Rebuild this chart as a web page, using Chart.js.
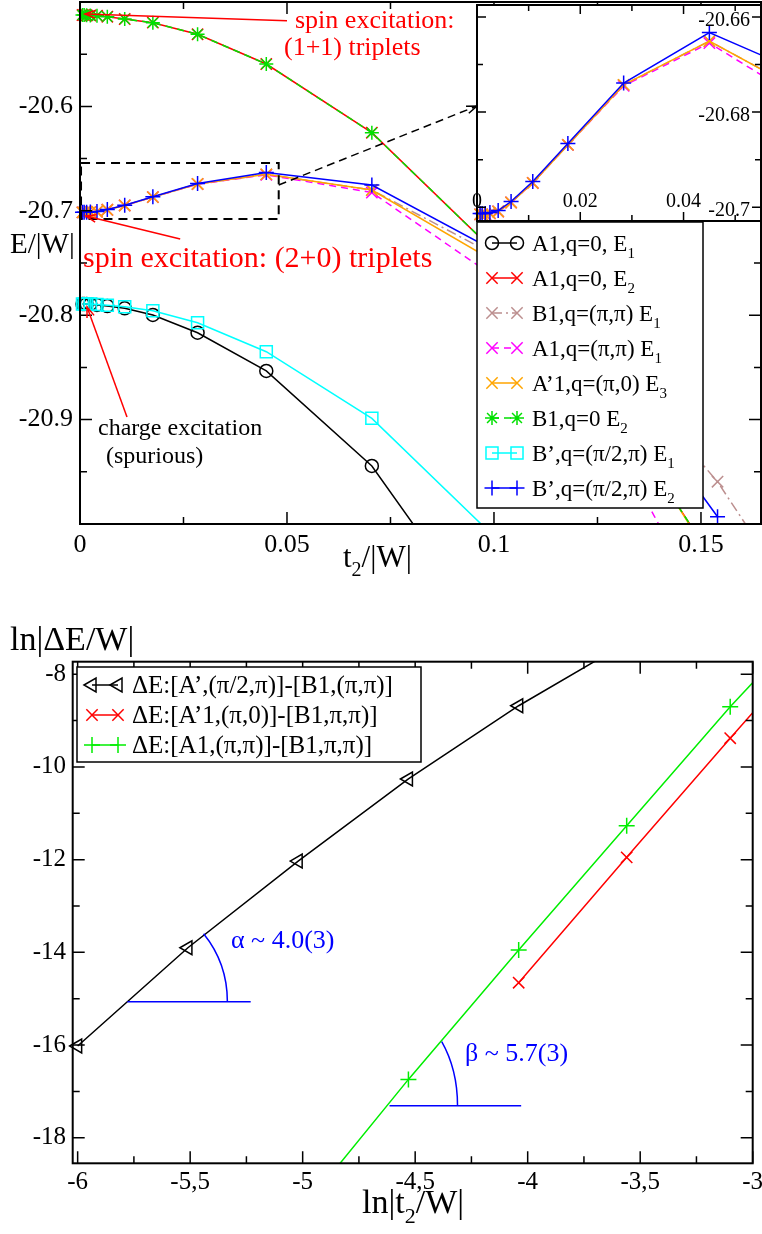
<!DOCTYPE html>
<html>
<head>
<meta charset="utf-8">
<script src="https://cdn.jsdelivr.net/npm/chart.js@4.4.1/dist/chart.umd.min.js"></script>
<style>
  body { margin: 0; background: #fff; }
  #wrap { position: relative; width: 762px; height: 1234px; }
  canvas { position: absolute; }
  #top { left: 0; top: 0; }
  #inset { left: 467px; top: 0; }
  #bottom { left: 0; top: 600px; }
</style>
</head>
<body>
<div id="wrap">
  <canvas id="top" width="762" height="600"></canvas>
  <canvas id="inset" width="295" height="226"></canvas>
  <canvas id="bottom" width="762" height="634"></canvas>
</div>
<script>
// ---- top panel: energies vs t2/|W| ----
const t2        = [0.0006, 0.001, 0.0016, 0.0025, 0.0041, 0.0066, 0.0108, 0.0176, 0.0284, 0.045, 0.0705, 0.112, 0.154, 0.2];
const eA1q0E1   = [-20.7893, -20.7893, -20.7893, -20.7895, -20.7902, -20.7912, -20.7934, -20.7998, -20.8168, -20.8534, -20.9444, -21.176, null, null];
const eA1q0E2   = [-20.5125, -20.5125, -20.5127, -20.5129, -20.5131, -20.5141, -20.5163, -20.5198, -20.5309, -20.5594, -20.6252, -20.7844, -21.041, null];
const eB1pipiE1 = [-20.7015, -20.7015, -20.7015, -20.7013, -20.7009, -20.699, -20.6949, -20.6869, -20.6743, -20.6651, -20.6801, -20.7672, -20.9595, -21.236];
const eA1pipiE1 = [-20.7015, -20.7015, -20.7015, -20.7013, -20.7009, -20.699, -20.6949, -20.6869, -20.6745, -20.6655, -20.6825, -20.7956, -21.105, null];
const eAp1pi0E3 = [-20.7015, -20.7015, -20.7015, -20.7013, -20.7009, -20.699, -20.6949, -20.6869, -20.6743, -20.6651, -20.6801, -20.776, -21.044, null];
const eB1q0E2   = [-20.5125, -20.5125, -20.5127, -20.5129, -20.5131, -20.5141, -20.5163, -20.5198, -20.5309, -20.5594, -20.6252, -20.7844, -21.041, null];
const eBpE1     = [-20.7893, -20.7893, -20.7893, -20.7893, -20.7898, -20.7905, -20.7918, -20.7957, -20.8072, -20.835, -20.8988, -21.058, null, null];
const eBpE2     = [-20.7013, -20.7013, -20.7013, -20.7011, -20.7007, -20.6988, -20.6946, -20.6866, -20.6739, -20.6633, -20.6753, -20.7636, -20.993, null];

const topXTicks = [0, 0.05, 0.1, 0.15];
const topXLabels = ['0', '0.05', '0.1', '0.15'];
const topYTicks = [-20.9, -20.8, -20.7, -20.6];
const topYLabels = ['-20.9', '-20.8', '-20.7', '-20.6'];
const insetXTicks = [0, 0.02, 0.04];
const insetXLabels = ['0', '0.02', '0.04'];
const insetYTicks = [-20.7, -20.68, -20.66];
const insetYLabels = ['-20.7', '-20.68', '-20.66'];

// ---- bottom panel: ln|dE/W| vs ln|t2/W| ----
const lnT    = [-6.0, -5.51, -5.02, -4.53, -4.04, -3.56, -3.10, -2.65];
const lnGapA = [-16.02, -13.9, -12.03, -10.26, -8.68, -7.32, null, null];
const lnGapB = [null, null, null, null, -14.655, -11.95, -9.38, -6.9];
const lnGapC = [null, null, -19.66, -16.74, -13.95, -11.27, -8.70, -6.37];

const botXTicks = [-6, -5.5, -5, -4.5, -4, -3.5, -3];
const botXLabels = ['-6', '-5,5', '-5', '-4,5', '-4', '-3,5', '-3'];
const botYTicks = [-18, -16, -14, -12, -10, -8];
const botYLabels = ['-18', '-16', '-14', '-12', '-10', '-8'];

// annotation anchors (data coordinates)
const zoomBox = { x0: 0.00025, x1: 0.048, y0: -20.7079, y1: -20.6542 };
const zoomArrow = [[0.048, -20.6753], [0.0959, -20.5996]];
const arrow11 = [[0.05, -20.5179], [0.0012, -20.5115]];
const arrow20 = [[0.0242, -20.727], [0.00145, -20.705]];
const arrowCharge = [[0.01135, -20.8975], [0.0017, -20.7921]];
const alphaFit = { x0: -5.779, x1: -5.231, y: -15.065 };
const betaFit = { x0: -4.614, x1: -4.029, y: -17.31 };

const SERIF = '"Liberation Serif", "Times New Roman", Times, serif';
const CLEAR = 'rgba(0,0,0,0)';
Chart.defaults.font.family = SERIF;
Chart.defaults.color = '#000';

function series(xs, ys) {
  return xs.map((x, i) => ({ x: x, y: ys[i] })).filter(p => p.y !== null);
}

function mkSet(label, xs, ys, color, style, radius, extra) {
  return Object.assign({
    label: label,
    data: series(xs, ys),
    borderColor: color,
    backgroundColor: CLEAR,
    pointBorderColor: color,
    pointBackgroundColor: CLEAR,
    pointStyle: style,
    pointRadius: radius,
    pointHoverRadius: radius,
    pointBorderWidth: 1.5,
    borderWidth: 1.5,
    tension: 0,
    fill: false
  }, extra || {});
}

function axisX(min, max, ticks, labels, size, pad, h) {
  return {
    type: 'linear', position: 'bottom', min: min, max: max,
    grid: { display: false, drawTicks: false }, border: { display: false },
    afterBuildTicks: s => { s.ticks = ticks.map(v => ({ value: v })); },
    afterFit: s => { s.height = h; s.paddingLeft = 0; s.paddingRight = 0; },
    ticks: { autoSkip: false, maxRotation: 0, padding: pad, color: '#000',
             font: { family: SERIF, size: size }, callback: (v, i) => labels[i] }
  };
}

function axisY(min, max, ticks, labels, size, pad, w) {
  return {
    type: 'linear', position: 'left', min: min, max: max,
    grid: { display: false, drawTicks: false }, border: { display: false },
    afterBuildTicks: s => { s.ticks = ticks.map(v => ({ value: v })); },
    afterFit: s => { s.width = w; s.paddingTop = 0; s.paddingBottom = 0; },
    ticks: { autoSkip: false, padding: pad, color: '#000',
             font: { family: SERIF, size: size }, callback: (v, i) => labels[i] }
  };
}

// xmgrace style: ticks pointing inward on all four sides + frame
function inwardTicks(chart, cfg) {
  const ctx = chart.ctx, a = chart.chartArea;
  ctx.save();
  ctx.strokeStyle = '#000';
  ctx.lineWidth = 1.5;
  ['x', 'y'].forEach(k => {
    const s = chart.scales[k], c = cfg[k];
    const ratio = Math.round(c.major / c.minor);
    const i0 = Math.ceil(s.min / c.minor - 1e-6), i1 = Math.floor(s.max / c.minor + 1e-6);
    for (let i = i0; i <= i1; i++) {
      const len = (((i % ratio) + ratio) % ratio === 0) ? cfg.long : cfg.short;
      const p = s.getPixelForValue(i * c.minor);
      ctx.beginPath();
      if (k === 'x') {
        ctx.moveTo(p, a.bottom); ctx.lineTo(p, a.bottom - len);
        ctx.moveTo(p, a.top); ctx.lineTo(p, a.top + len);
      } else {
        ctx.moveTo(a.left, p); ctx.lineTo(a.left + len, p);
        ctx.moveTo(a.right, p); ctx.lineTo(a.right - len, p);
      }
      ctx.stroke();
    }
  });
  ctx.lineWidth = 2;
  ctx.strokeRect(a.left, a.top, a.width, a.height);
  ctx.restore();
}

// text with subscripts: parts = ['t', ['2'], '/|W|']
function rich(ctx, parts, x, y, size, color) {
  ctx.save();
  ctx.fillStyle = color;
  ctx.textAlign = 'left';
  ctx.textBaseline = 'alphabetic';
  parts.forEach(p => {
    const sub = Array.isArray(p);
    const t = sub ? p[0] : p;
    ctx.font = (sub ? Math.round(size * 0.65) : size) + 'px ' + SERIF;
    ctx.fillText(t, x, sub ? y + size * 0.3 : y);
    x += ctx.measureText(t).width;
  });
  ctx.restore();
}

function arrow(ctx, p0, p1, color, dash) {
  const a = Math.atan2(p1[1] - p0[1], p1[0] - p0[0]), h = 11;
  ctx.save();
  ctx.strokeStyle = color;
  ctx.lineWidth = 1.5;
  ctx.setLineDash(dash || []);
  ctx.beginPath(); ctx.moveTo(p0[0], p0[1]); ctx.lineTo(p1[0], p1[1]); ctx.stroke();
  ctx.setLineDash([]);
  ctx.beginPath();
  ctx.moveTo(p1[0] - h * Math.cos(a - 0.35), p1[1] - h * Math.sin(a - 0.35));
  ctx.lineTo(p1[0], p1[1]);
  ctx.lineTo(p1[0] - h * Math.cos(a + 0.35), p1[1] - h * Math.sin(a + 0.35));
  ctx.stroke();
  ctx.restore();
}

function drawLegend(chart, box, rows, lay) {
  const ctx = chart.ctx;
  ctx.save();
  ctx.fillStyle = '#fff';
  ctx.fillRect(box.x, box.y, box.w, box.h);
  ctx.strokeStyle = '#000';
  ctx.lineWidth = 1.5;
  ctx.strokeRect(box.x, box.y, box.w, box.h);
  rows.forEach((r, i) => {
    const ds = chart.data.datasets[r.set];
    const y = lay.y0 + i * lay.gap;
    ctx.strokeStyle = ds.borderColor;
    ctx.lineWidth = 1.5;
    ctx.setLineDash(ds.borderDash || []);
    ctx.beginPath(); ctx.moveTo(lay.m0, y); ctx.lineTo(lay.m1, y); ctx.stroke();
    ctx.setLineDash([]);
    ctx.fillStyle = ds.pointBackgroundColor;
    [lay.m0, lay.m1].forEach(mx => Chart.helpers.drawPoint(ctx, {
      pointStyle: ds.pointStyle, radius: ds.pointRadius,
      rotation: ds.pointRotation || 0, borderWidth: 1.5
    }, mx, y));
    rich(ctx, r.text, lay.tx, y + lay.base, lay.size, '#000');
  });
  ctx.restore();
}

// angle marker: horizontal line + elliptic arc up to the fitted line
function slopeMark(chart, fit, seg, rx, ry, label, lx, ly) {
  const ctx = chart.ctx, xs = chart.scales.x, ys = chart.scales.y;
  const cx = xs.getPixelForValue(fit.x0), cy = ys.getPixelForValue(fit.y);
  const ax = xs.getPixelForValue(seg[0][0]), ay = ys.getPixelForValue(seg[0][1]);
  const bx = xs.getPixelForValue(seg[1][0]), by = ys.getPixelForValue(seg[1][1]);
  const theta = Math.atan2(Math.abs(by - ay), Math.abs(bx - ax));
  const t = Math.atan(Math.tan(theta) * rx / ry);
  ctx.save();
  ctx.strokeStyle = '#0000ff';
  ctx.lineWidth = 1.5;
  ctx.beginPath();
  ctx.moveTo(cx, cy); ctx.lineTo(xs.getPixelForValue(fit.x1), cy);
  ctx.stroke();
  ctx.beginPath();
  ctx.ellipse(cx, cy, rx, ry, 0, -t, 0);
  ctx.stroke();
  ctx.restore();
  rich(ctx, [label], lx, ly, 26, '#0000ff');
}

const topSets = [
  mkSet('A1,q=0, E1', t2, eA1q0E1, '#000000', 'circle', 6.5),
  mkSet('A1,q=0, E2', t2, eA1q0E2, '#ff0000', 'crossRot', 8),
  mkSet('B1,q=(pi,pi) E1', t2, eB1pipiE1, '#bc8f8f', 'crossRot', 8, { borderDash: [10, 4, 2, 4] }),
  mkSet('A1,q=(pi,pi) E1', t2, eA1pipiE1, '#ff00ff', 'crossRot', 8, { borderDash: [7, 5] }),
  mkSet("A'1,q=(pi,0) E3", t2, eAp1pi0E3, '#ffa500', 'crossRot', 8),
  mkSet('B1,q=0 E2', t2, eB1q0E2, '#00e000', 'star', 7, { borderDash: [7, 5] }),
  mkSet("B',q=(pi/2,pi) E1", t2, eBpE1, '#00ffff', 'rect', 8.5),
  mkSet("B',q=(pi/2,pi) E2", t2, eBpE2, '#0000ff', 'cross', 7.5)
];
topSets.forEach((d, i) => { d.order = topSets.length - i; d.clip = { left: 10, top: 2, right: 0, bottom: 1 }; });

const topLegendRows = [
  { set: 0, text: ['A1,q=0, E', ['1']] },
  { set: 1, text: ['A1,q=0, E', ['2']] },
  { set: 2, text: ['B1,q=(\u03c0,\u03c0) E', ['1']] },
  { set: 3, text: ['A1,q=(\u03c0,\u03c0) E', ['1']] },
  { set: 4, text: ['A\u20191,q=(\u03c0,0) E', ['3']] },
  { set: 5, text: ['B1,q=0 E', ['2']] },
  { set: 6, text: ['B\u2019,q=(\u03c0/2,\u03c0) E', ['1']] },
  { set: 7, text: ['B\u2019,q=(\u03c0/2,\u03c0) E', ['2']] }
];

const topDecor = {
  id: 'topDecor',
  afterDraw(chart) {
    const ctx = chart.ctx, xs = chart.scales.x, ys = chart.scales.y;
    const P = v => [xs.getPixelForValue(v[0]), ys.getPixelForValue(v[1])];
    inwardTicks(chart, { x: { major: 0.05, minor: 0.025 }, y: { major: 0.1, minor: 0.05 }, long: 12, short: 7 });

    // dashed zoom box and arrow to the inset
    const b0 = P([zoomBox.x0, zoomBox.y1]), b1 = P([zoomBox.x1, zoomBox.y0]);
    ctx.save();
    ctx.strokeStyle = '#000';
    ctx.lineWidth = 2;
    ctx.setLineDash([9, 6]);
    ctx.strokeRect(b0[0], b0[1], b1[0] - b0[0], b1[1] - b0[1]);
    ctx.restore();
    arrow(ctx, P(zoomArrow[0]), P(zoomArrow[1]), '#000', [8, 5]);

    arrow(ctx, P(arrow11[0]), P(arrow11[1]), '#ff0000');
    arrow(ctx, P(arrow20[0]), P(arrow20[1]), '#ff0000');
    arrow(ctx, P(arrowCharge[0]), P(arrowCharge[1]), '#ff0000');

    rich(ctx, ['spin excitation:'], 295, 28, 26, '#ff0000');
    rich(ctx, ['(1+1) triplets'], 284, 55, 26, '#ff0000');
    rich(ctx, ['spin excitation: (2+0) triplets'], 83, 267, 30, '#ff0000');
    rich(ctx, ['charge excitation'], 98, 435, 24, '#000');
    rich(ctx, ['(spurious)'], 106, 463, 24, '#000');

    rich(ctx, ['E/|W|'], 10, 253, 29, '#000');
    rich(ctx, ['t', ['2'], '/|W|'], 343, 567, 31, '#000');

    drawLegend(chart, { x: 477, y: 222, w: 226, h: 286 }, topLegendRows,
      { y0: 243, gap: 35, m0: 492, m1: 517, tx: 532, base: 8, size: 23 });
  }
};

new Chart(document.getElementById('top'), {
  type: 'line',
  data: { datasets: topSets },
  options: {
    responsive: false,
    animation: false,
    layout: { autoPadding: false, padding: { top: 2, right: 1, left: 0, bottom: 0 } },
    plugins: { legend: { display: false }, tooltip: { enabled: false } },
    scales: {
      x: axisX(0, 0.1645, topXTicks, topXLabels, 26, 6, 76),
      y: axisY(-21, -20.5, topYTicks, topYLabels, 26, 7, 80)
    }
  },
  plugins: [topDecor]
});

// ---- inset (zoom on the (2+0) triplet branch) ----
const insetSets = [
  mkSet('B1,q=(pi,pi) E1', t2, eB1pipiE1, '#bc8f8f', 'crossRot', 8, { borderDash: [10, 4, 2, 4] }),
  mkSet('A1,q=(pi,pi) E1', t2, eA1pipiE1, '#ff00ff', 'crossRot', 8, { borderDash: [7, 5] }),
  mkSet("A'1,q=(pi,0) E3", t2, eAp1pi0E3, '#ffa500', 'crossRot', 8),
  mkSet("B',q=(pi/2,pi) E2", t2, eBpE2, '#0000ff', 'cross', 7.5)
];
insetSets.forEach((d, i) => { d.order = insetSets.length - i; d.clip = { left: 8, top: 0, right: 0, bottom: 2 }; });

const insetDecor = {
  id: 'insetDecor',
  beforeDraw(chart) {
    const a = chart.chartArea;
    chart.ctx.save();
    chart.ctx.fillStyle = '#fff';
    chart.ctx.fillRect(a.left, a.top, a.width, a.height);
    chart.ctx.restore();
  },
  afterDraw(chart) {
    const ctx = chart.ctx, xs = chart.scales.x, ys = chart.scales.y;
    inwardTicks(chart, { x: { major: 0.02, minor: 0.01 }, y: { major: 0.02, minor: 0.01 }, long: 9, short: 6 });
    ctx.save();
    ctx.fillStyle = '#000';
    ctx.font = '20px ' + SERIF;
    ctx.textAlign = 'right';
    ctx.textBaseline = 'middle';
    insetYTicks.forEach((v, i) => ctx.fillText(insetYLabels[i], 283, ys.getPixelForValue(v) + 3.5));
    ctx.textAlign = 'center';
    ctx.textBaseline = 'alphabetic';
    insetXTicks.forEach((v, i) => ctx.fillText(insetXLabels[i], xs.getPixelForValue(v), 207));
    ctx.restore();
  }
};

new Chart(document.getElementById('inset'), {
  type: 'line',
  data: { datasets: insetSets },
  options: {
    responsive: false,
    animation: false,
    layout: { autoPadding: false, padding: { left: 10, top: 5, right: 1, bottom: 5 } },
    plugins: { legend: { display: false }, tooltip: { enabled: false } },
    scales: {
      x: { type: 'linear', display: false, min: 0, max: 0.055 },
      y: { type: 'linear', display: false, min: -20.7029, max: -20.6575 }
    }
  },
  plugins: [insetDecor]
});

// ---- bottom panel ----
const botSets = [
  mkSet("dE A'", lnT, lnGapA, '#000000', 'triangle', 8, { pointRotation: 270 }),
  mkSet("dE A'1", lnT, lnGapB, '#ff0000', 'crossRot', 8),
  mkSet('dE A1', lnT, lnGapC, '#00ee00', 'cross', 8)
];
botSets.forEach((d, i) => { d.order = botSets.length - i; d.clip = { left: 10, top: 0, right: 0, bottom: 0 }; });

const botLegendRows = [
  { set: 0, text: ['\u0394E:[A\u2019,(\u03c0/2,\u03c0)]-[B1,(\u03c0,\u03c0)]'] },
  { set: 1, text: ['\u0394E:[A\u20191,(\u03c0,0)]-[B1,\u03c0,\u03c0)]'] },
  { set: 2, text: ['\u0394E:[A1,(\u03c0,\u03c0)]-[B1,\u03c0,\u03c0)]'] }
];

const botDecor = {
  id: 'botDecor',
  afterDraw(chart) {
    inwardTicks(chart, { x: { major: 0.5, minor: 0.25 }, y: { major: 2, minor: 1 }, long: 12, short: 7 });
    slopeMark(chart, alphaFit, [[lnT[0], lnGapA[0]], [lnT[1], lnGapA[1]]], 100, 105, '\u03b1 ~ 4.0(3)', 231, 348);
    slopeMark(chart, betaFit, [[lnT[2], lnGapC[2]], [lnT[3], lnGapC[3]]], 68, 100, '\u03b2 ~ 5.7(3)', 465, 461);
    drawLegend(chart, { x: 77, y: 67, w: 344, h: 95 }, botLegendRows,
      { y0: 85, gap: 30, m0: 92, m1: 118, tx: 132, base: 8, size: 25 });
    rich(chart.ctx, ['ln|\u0394E/W|'], 10, 50, 34, '#000');
    rich(chart.ctx, ['ln|t', ['2'], '/W|'], 362, 613, 34, '#000');
  }
};

new Chart(document.getElementById('bottom'), {
  type: 'line',
  data: { datasets: botSets },
  options: {
    responsive: false,
    animation: false,
    layout: { autoPadding: false, padding: { top: 61.7, right: 9.3, left: 0, bottom: 0 } },
    plugins: { legend: { display: false }, tooltip: { enabled: false } },
    scales: {
      x: axisX(-6.022, -3, botXTicks, botXLabels, 25, 4, 70.7),
      y: axisY(-18.55, -7.73, botYTicks, botYLabels, 25, 6.7, 72.7)
    }
  },
  plugins: [botDecor]
});
</script>
</body>
</html>
